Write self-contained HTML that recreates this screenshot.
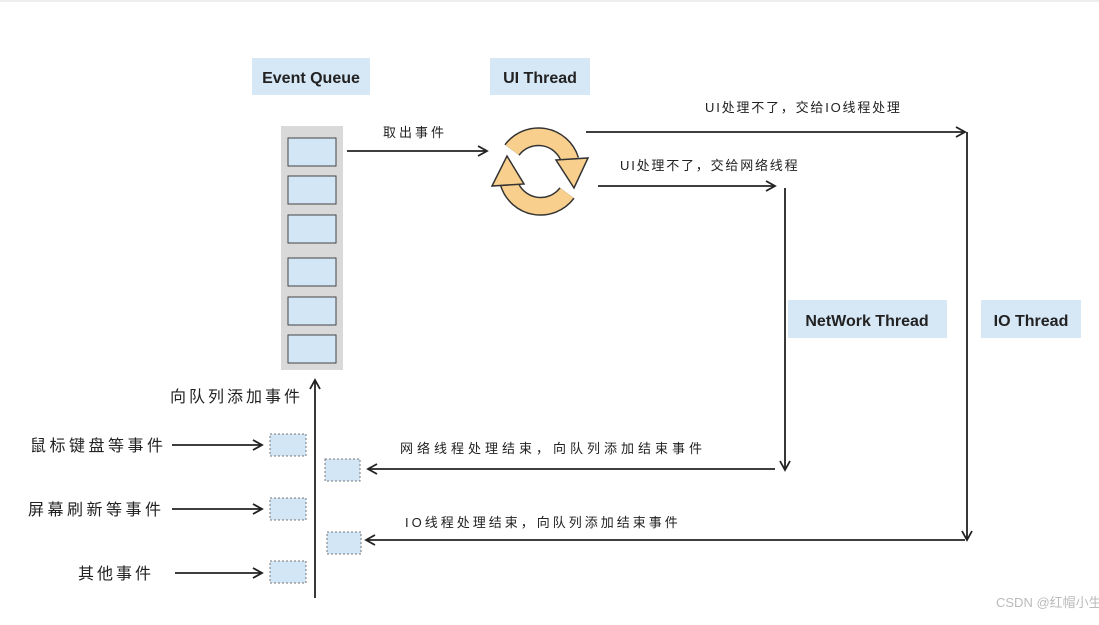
<!DOCTYPE html>
<html><head><meta charset="utf-8"><style>
html,body{margin:0;padding:0;background:#fff;}
svg text{font-family:"Liberation Sans","Noto Sans CJK SC",sans-serif;fill:#222;}
</style></head><body>
<svg width="1099" height="620" viewBox="0 0 1099 620" xmlns="http://www.w3.org/2000/svg">
<defs>
<marker id="ah" markerWidth="12" markerHeight="12" refX="10" refY="6" orient="auto" markerUnits="userSpaceOnUse">
<path d="M1,1 L10,6 L1,11" fill="none" stroke="#222" stroke-width="1.8"/>
</marker>
</defs>
<line x1="0" y1="1" x2="1099" y2="1" stroke="#eee" stroke-width="2"/>
<rect x="252" y="58" width="118" height="37" fill="#d6e7f5"/>
<text x="311" y="83" font-size="16" font-weight="bold" text-anchor="middle">Event Queue</text>
<rect x="490" y="58" width="100" height="37" fill="#d6e7f5"/>
<text x="540" y="83" font-size="16" font-weight="bold" text-anchor="middle">UI Thread</text>
<rect x="788" y="300" width="159" height="38" fill="#d6e7f5"/>
<text x="867" y="326" font-size="16" font-weight="bold" text-anchor="middle">NetWork Thread</text>
<rect x="981" y="300" width="100" height="38" fill="#d6e7f5"/>
<text x="1031" y="326" font-size="16" font-weight="bold" text-anchor="middle">IO Thread</text>
<rect x="281" y="126" width="62" height="244" fill="#d9d9d9"/>
<g fill="#d3e6f6" stroke="#444" stroke-width="1">
<rect x="288" y="138" width="48" height="28"/>
<rect x="288" y="176" width="48" height="28"/>
<rect x="288" y="215" width="48" height="28"/>
<rect x="288" y="258" width="48" height="28"/>
<rect x="288" y="297" width="48" height="28"/>
<rect x="288" y="335" width="48" height="28"/>
</g>
<line x1="347" y1="151" x2="487" y2="151" stroke="#222" stroke-width="1.8" marker-end="url(#ah)"/>
<text x="383" y="137" font-size="13" letter-spacing="3">取出事件</text>
<g>
<path d="M512,150 A33,33 0 0 1 570,160" fill="none" stroke="#333" stroke-width="19"/>
<path d="M512,150 A33,33 0 0 1 570,160" fill="none" stroke="#f8cf8c" stroke-width="16"/>
<polygon points="556,160 588,158 574,188" fill="#f8cf8c" stroke="#333" stroke-width="1.5"/>
<path d="M567,193 A33,33 0 0 1 509,183" fill="none" stroke="#333" stroke-width="19"/>
<path d="M567,193 A33,33 0 0 1 509,183" fill="none" stroke="#f8cf8c" stroke-width="16"/>
<polygon points="492,186 507,156 524,184" fill="#f8cf8c" stroke="#333" stroke-width="1.5"/>
</g>
<line x1="586" y1="132" x2="965" y2="132" stroke="#222" stroke-width="1.8" marker-end="url(#ah)"/>
<text x="705" y="112" font-size="13" letter-spacing="1.8">UI处理不了，交给IO线程处理</text>
<line x1="967" y1="132" x2="967" y2="540" stroke="#222" stroke-width="1.8" marker-end="url(#ah)"/>
<line x1="598" y1="186" x2="775" y2="186" stroke="#222" stroke-width="1.8" marker-end="url(#ah)"/>
<text x="620" y="170" font-size="13" letter-spacing="1.8">UI处理不了，交给网络线程</text>
<line x1="785" y1="188" x2="785" y2="470" stroke="#222" stroke-width="1.8" marker-end="url(#ah)"/>
<line x1="775" y1="469" x2="368" y2="469" stroke="#222" stroke-width="1.8" marker-end="url(#ah)"/>
<text x="400" y="453" font-size="13" letter-spacing="4">网络线程处理结束，向队列添加结束事件</text>
<line x1="965" y1="540" x2="366" y2="540" stroke="#222" stroke-width="1.8" marker-end="url(#ah)"/>
<text x="405" y="527" font-size="13" letter-spacing="3">IO线程处理结束，向队列添加结束事件</text>
<g fill="#d3e6f6" stroke="#777" stroke-width="1" stroke-dasharray="2,2">
<rect x="325" y="459" width="35" height="22"/>
<rect x="327" y="532" width="34" height="22"/>
<rect x="270" y="434" width="36" height="22"/>
<rect x="270" y="498" width="36" height="22"/>
<rect x="270" y="561" width="36" height="22"/>
</g>
<line x1="315" y1="598" x2="315" y2="380" stroke="#222" stroke-width="1.8" marker-end="url(#ah)"/>
<text x="170" y="402" font-size="16" letter-spacing="3">向队列添加事件</text>
<text x="30" y="451" font-size="16" letter-spacing="3.5">鼠标键盘等事件</text>
<line x1="172" y1="445" x2="262" y2="445" stroke="#222" stroke-width="1.8" marker-end="url(#ah)"/>
<text x="28" y="515" font-size="16" letter-spacing="3.5">屏幕刷新等事件</text>
<line x1="172" y1="509" x2="262" y2="509" stroke="#222" stroke-width="1.8" marker-end="url(#ah)"/>
<text x="78" y="579" font-size="16" letter-spacing="3">其他事件</text>
<line x1="175" y1="573" x2="262" y2="573" stroke="#222" stroke-width="1.8" marker-end="url(#ah)"/>
<text x="996" y="607" font-size="13" style="fill:#bbb">CSDN @红帽小生</text>
</svg>
</body></html>
